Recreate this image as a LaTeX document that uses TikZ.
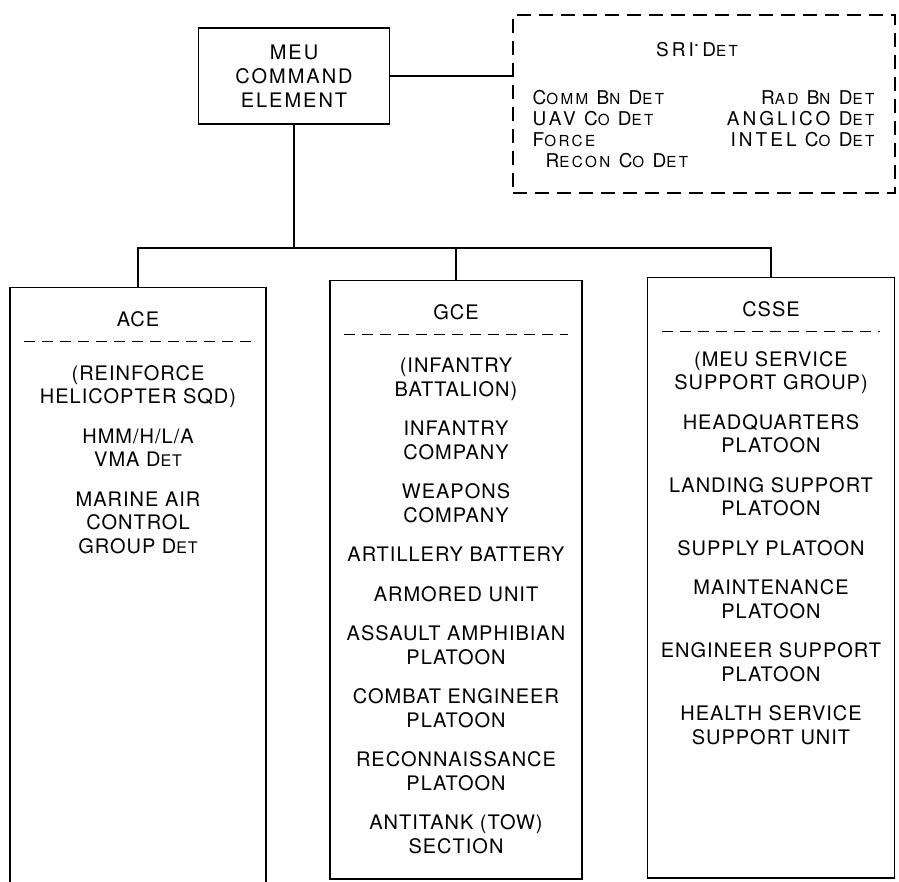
\documentclass[tikz,border=0pt]{standalone}
\usepackage{fontspec}
\setmainfont{TeX Gyre Heros}
\newfontfamily\cmdfont[LetterSpace=10]{TeX Gyre Heros}
\newfontfamily\boxfont[LetterSpace=5]{TeX Gyre Heros}
\newfontfamily\srifont[LetterSpace=16]{TeX Gyre Heros}
\newcommand{\smcap}[1]{\scalebox{0.8}{#1}}
\usetikzlibrary{positioning,calc}

\begin{document}
\begin{tikzpicture}[x=1pt, y=-1pt, line width=1.3pt,
  cmdbox/.style={draw, line width=1.8pt, minimum width=191, minimum height=96,
    align=center, inner sep=0pt, font=\cmdfont\fontsize{20}{24}\selectfont},
  sribox/.style={draw, dash pattern=on 14pt off 8pt, minimum width=382,
    minimum height=178, inner sep=0pt},
  srilist/.style={inner sep=0pt, font=\srifont\fontsize{19}{21}\selectfont},
  unitbox/.style={draw, line width=1.5pt, anchor=north, inner sep=0pt},
  unithead/.style={inner sep=0pt, font=\boxfont\fontsize{20}{24}\selectfont},
  unitlist/.style={align=center, inner sep=0pt, font=\boxfont\fontsize{20}{23.5}\selectfont},
  sepline/.style={line width=1pt, dash pattern=on 11pt off 7pt}]
\useasboundingbox (0,0) rectangle (899,882);
% Command element and SRI detachment
\node[cmdbox] (meu) at (294,76) {MEU\\COMMAND\\ELEMENT};
\node[sribox] (sri) at (704,104) {};
\node[srilist, anchor=base] (srihead) at (697,57) {SRI\raisebox{0.55em}{.}\,D\smcap{ET}};
\node[srilist, anchor=north west, align=left] (sril) at (532,90)
  {C\smcap{OMM} B\smcap{N} D\smcap{ET}\\UAV C\smcap{O} D\smcap{ET}\\F\smcap{ORCE}\\\hspace*{13pt}R\smcap{ECON} C\smcap{O} D\smcap{ET}};
\node[srilist, anchor=north east, align=right] (srir) at (875,90)
  {R\smcap{AD} B\smcap{N} D\smcap{ET}\\ANGLICO D\smcap{ET}\\INTEL C\smcap{O} D\smcap{ET}};
% Major subordinate elements
\node[unitbox, minimum width=256, minimum height=612] (ace) at (138,287) {};
\node[unitbox, minimum width=252, minimum height=598] (gce) at (456,280) {};
\node[unitbox, minimum width=247, minimum height=600] (csse) at (771,277) {};
\node[unithead, below=24pt of ace.north] (acehead) {ACE};
\node[unithead, below=24pt of gce.north] (gcehead) {GCE};
\node[unithead, below=24pt of csse.north] (cssehead) {CSSE};
\foreach \u in {ace,gce,csse}
  \draw[sepline] ($(\u.north west)+(15,55)$) -- ($(\u.north east)+(-15,55)$);
\node[unitlist, below=37pt of acehead] (acelist)
  {(REINFORCE\\HELICOPTER SQD)\\[16pt]HMM/H/L/A\\VMA D\smcap{ET}\\[16pt]MARINE AIR\\CONTROL\\GROUP D\smcap{ET}};
\node[unitlist, below=37pt of gcehead] (gcelist)
  {(INFANTRY\\BATTALION)\\[16pt]INFANTRY\\COMPANY\\[16pt]WEAPONS\\COMPANY\\[16pt]ARTILLERY BATTERY\\[16pt]ARMORED UNIT\\[16pt]ASSAULT AMPHIBIAN\\PLATOON\\[16pt]COMBAT ENGINEER\\PLATOON\\[16pt]RECONNAISSANCE\\PLATOON\\[16pt]ANTITANK (TOW)\\SECTION};
\node[unitlist, below=33pt of cssehead] (csselist)
  {(MEU SERVICE\\SUPPORT GROUP)\\[16pt]HEADQUARTERS\\PLATOON\\[16pt]LANDING SUPPORT\\PLATOON\\[16pt]SUPPLY PLATOON\\[16pt]MAINTENANCE\\PLATOON\\[16pt]ENGINEER SUPPORT\\PLATOON\\[16pt]HEALTH SERVICE\\SUPPORT UNIT};
% Connectors
\coordinate (bus) at (0,248);
\draw (meu.east) -- (meu.east -| sri.west);
\draw (meu.south) -- (meu.south |- bus);
\draw (ace.north) -- (ace.north |- bus) -| (csse.north);
\draw (gce.north) -- (gce.north |- bus);
\end{tikzpicture}
\end{document}
